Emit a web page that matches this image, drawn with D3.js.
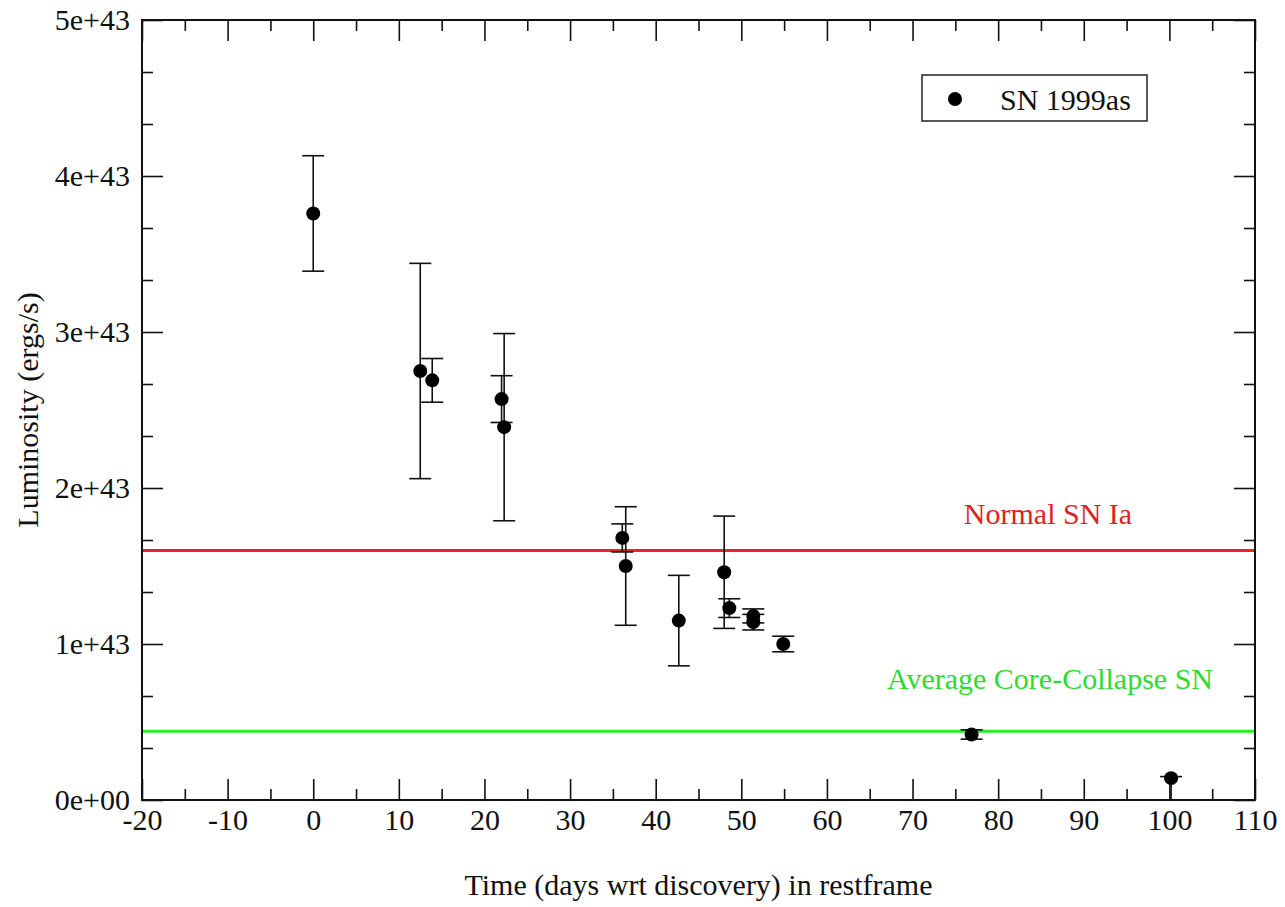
<!DOCTYPE html>
<html lang="en">
<head>
    <meta charset="UTF-8">
    <title>SN 1999as Luminosity</title>
    <script src="https://d3js.org/d3.v7.min.js"></script>
    <style>
        body {
            margin: 0;
            background: #fff;
            font-family: "Liberation Serif", "Times New Roman", serif;
        }
        text {
            font-family: "Liberation Serif", "Times New Roman", serif;
        }
    </style>
</head>
<body>
    <div id="chart"></div>
    <script>
        // Data (luminosity in ergs/s, time in restframe days)
        const days = [0, 12.5, 13.9, 22.0, 22.3, 36.1, 36.5, 42.7, 48.0, 48.6, 51.4, 51.4, 54.9, 76.9, 100.2];
        const lum = [3.76e43, 2.75e43, 2.69e43, 2.57e43, 2.39e43, 1.68e43, 1.50e43, 1.15e43, 1.46e43, 1.23e43, 1.18e43, 1.14e43, 1.00e43, 0.42e43, 0.14e43];
        const errLo = [0.37e43, 0.69e43, 0.14e43, 0.15e43, 0.60e43, 0.09e43, 0.38e43, 0.29e43, 0.36e43, 0.06e43, 0.045e43, 0.05e43, 0.05e43, 0.03e43, 0.16e43];
        const errHi = [0.37e43, 0.69e43, 0.14e43, 0.15e43, 0.60e43, 0.09e43, 0.38e43, 0.29e43, 0.36e43, 0.06e43, 0.045e43, 0.05e43, 0.05e43, 0.03e43, 0.01e43];

        const refNames = ["Normal SN Ia", "Average Core-Collapse SN"];
        const refValues = [1.6e43, 0.44e43];
        const refColors = ["#ee2222", "#22ee22"];
        const refTextColors = ["#dd2222", "#2cdc2c"];

        const xTicks = [-20, -10, 0, 10, 20, 30, 40, 50, 60, 70, 80, 90, 100, 110];
        const xMinor = [-15, -5, 5, 15, 25, 35, 45, 55, 65, 75, 85, 95, 105];
        const yTicks = [0, 1e43, 2e43, 3e43, 4e43, 5e43];
        const yTickLabels = ["0e+00", "1e+43", "2e+43", "3e+43", "4e+43", "5e+43"];
        const yMinor = d3.range(0, 16).filter(i => i % 3 !== 0).map(i => i * 1e43 / 3);

        const seriesName = "SN 1999as";
        const xTitle = "Time (days wrt discovery) in restframe";
        const yTitle = "Luminosity (ergs/s)";

        const W = 1285, H = 907;
        const margin = { top: 20, right: 30, bottom: 107, left: 142 },
            width = W - margin.left - margin.right,
            height = H - margin.top - margin.bottom;

        const svg = d3.select("#chart")
            .append("svg")
            .attr("width", W)
            .attr("height", H);

        const g = svg.append("g")
            .attr("transform", `translate(${margin.left},${margin.top})`);

        const x = d3.scaleLinear().domain([-20, 110]).range([0, width]);
        const y = d3.scaleLinear().domain([0, 5e43]).range([height, 0]);

        svg.append("defs").append("clipPath").attr("id", "plot-clip")
            .append("rect").attr("width", width).attr("height", height);

        // axes: major and minor ticks on all four sides, pointing inward
        function styleAxis(sel) {
            sel.select(".domain").remove();
            sel.selectAll(".tick line").attr("stroke", "#111").attr("stroke-width", 1.6);
            sel.selectAll(".tick text")
                .attr("fill", "#111")
                .style("font-size", "30px");
        }

        g.append("g").attr("transform", `translate(0,${height})`)
            .call(d3.axisBottom(x).tickValues(xTicks).tickSizeInner(-21).tickSizeOuter(0).tickPadding(9).tickFormat(d => d))
            .call(styleAxis);
        g.append("g").attr("transform", `translate(0,${height})`)
            .call(d3.axisBottom(x).tickValues(xMinor).tickSizeInner(-11).tickSizeOuter(0).tickFormat(""))
            .call(styleAxis);
        g.append("g")
            .call(d3.axisTop(x).tickValues(xTicks).tickSizeInner(-21).tickSizeOuter(0).tickFormat(""))
            .call(styleAxis);
        g.append("g")
            .call(d3.axisTop(x).tickValues(xMinor).tickSizeInner(-11).tickSizeOuter(0).tickFormat(""))
            .call(styleAxis);

        g.append("g")
            .call(d3.axisLeft(y).tickValues(yTicks).tickSizeInner(-21).tickSizeOuter(0).tickPadding(12)
                .tickFormat((d, i) => yTickLabels[i]))
            .call(styleAxis);
        g.append("g")
            .call(d3.axisLeft(y).tickValues(yMinor).tickSizeInner(-11).tickSizeOuter(0).tickFormat(""))
            .call(styleAxis);
        g.append("g").attr("transform", `translate(${width},0)`)
            .call(d3.axisRight(y).tickValues(yTicks).tickSizeInner(-21).tickSizeOuter(0).tickFormat(""))
            .call(styleAxis);
        g.append("g").attr("transform", `translate(${width},0)`)
            .call(d3.axisRight(y).tickValues(yMinor).tickSizeInner(-11).tickSizeOuter(0).tickFormat(""))
            .call(styleAxis);

        // reference lines
        const plot = g.append("g").attr("clip-path", "url(#plot-clip)");

        plot.selectAll("line.ref")
            .data(refValues)
            .enter()
            .append("line")
            .attr("class", "ref")
            .attr("x1", 0)
            .attr("x2", width)
            .attr("y1", d => y(d))
            .attr("y2", d => y(d))
            .attr("stroke", (d, i) => refColors[i])
            .attr("stroke-width", 3);

        // error bars
        const pts = days.map((d, i) => ({ t: d, v: lum[i], lo: lum[i] - errLo[i], hi: lum[i] + errHi[i] }));
        const cap = 11;

        const bars = plot.selectAll("g.err")
            .data(pts)
            .enter()
            .append("g")
            .attr("class", "err")
            .attr("stroke", "#111")
            .attr("stroke-width", 1.6);

        bars.append("line")
            .attr("x1", d => x(d.t)).attr("x2", d => x(d.t))
            .attr("y1", d => y(d.lo)).attr("y2", d => y(d.hi));
        bars.append("line")
            .attr("x1", d => x(d.t) - cap).attr("x2", d => x(d.t) + cap)
            .attr("y1", d => y(d.hi)).attr("y2", d => y(d.hi));
        bars.append("line")
            .attr("x1", d => x(d.t) - cap).attr("x2", d => x(d.t) + cap)
            .attr("y1", d => y(d.lo)).attr("y2", d => y(d.lo));

        plot.selectAll("circle.pt")
            .data(pts)
            .enter()
            .append("circle")
            .attr("class", "pt")
            .attr("cx", d => x(d.t))
            .attr("cy", d => y(d.v))
            .attr("r", 7)
            .attr("fill", "#000");

        // reference labels
        const refLabelX = [1048, 1050];
        const refLabelDy = [-26, -42];
        g.selectAll("text.reflabel")
            .data(refNames)
            .enter()
            .append("text")
            .attr("class", "reflabel")
            .attr("x", (d, i) => refLabelX[i] - margin.left)
            .attr("y", (d, i) => y(refValues[i]) + refLabelDy[i])
            .attr("text-anchor", "middle")
            .attr("fill", (d, i) => refTextColors[i])
            .style("font-size", "30px")
            .text(d => d);

        // frame
        g.append("rect")
            .attr("width", width)
            .attr("height", height)
            .attr("fill", "none")
            .attr("stroke", "#111")
            .attr("stroke-width", 2);

        // legend
        const legend = svg.append("g").attr("transform", "translate(922,75)");
        legend.append("rect")
            .attr("width", 225)
            .attr("height", 46)
            .attr("fill", "#fff")
            .attr("stroke", "#222")
            .attr("stroke-width", 1.5);
        legend.append("circle")
            .attr("cx", 33)
            .attr("cy", 24)
            .attr("r", 7)
            .attr("fill", "#000");
        legend.append("text")
            .attr("x", 78)
            .attr("y", 24)
            .attr("dy", "0.35em")
            .style("font-size", "30px")
            .attr("fill", "#111")
            .text(seriesName);

        // axis titles
        svg.append("text")
            .attr("x", margin.left + width / 2)
            .attr("y", 895)
            .attr("text-anchor", "middle")
            .style("font-size", "30px")
            .attr("fill", "#111")
            .text(xTitle);

        svg.append("text")
            .attr("transform", `translate(38,${margin.top + height / 2}) rotate(-90)`)
            .attr("text-anchor", "middle")
            .style("font-size", "30px")
            .attr("fill", "#111")
            .text(yTitle);
    </script>
</body>
</html>
